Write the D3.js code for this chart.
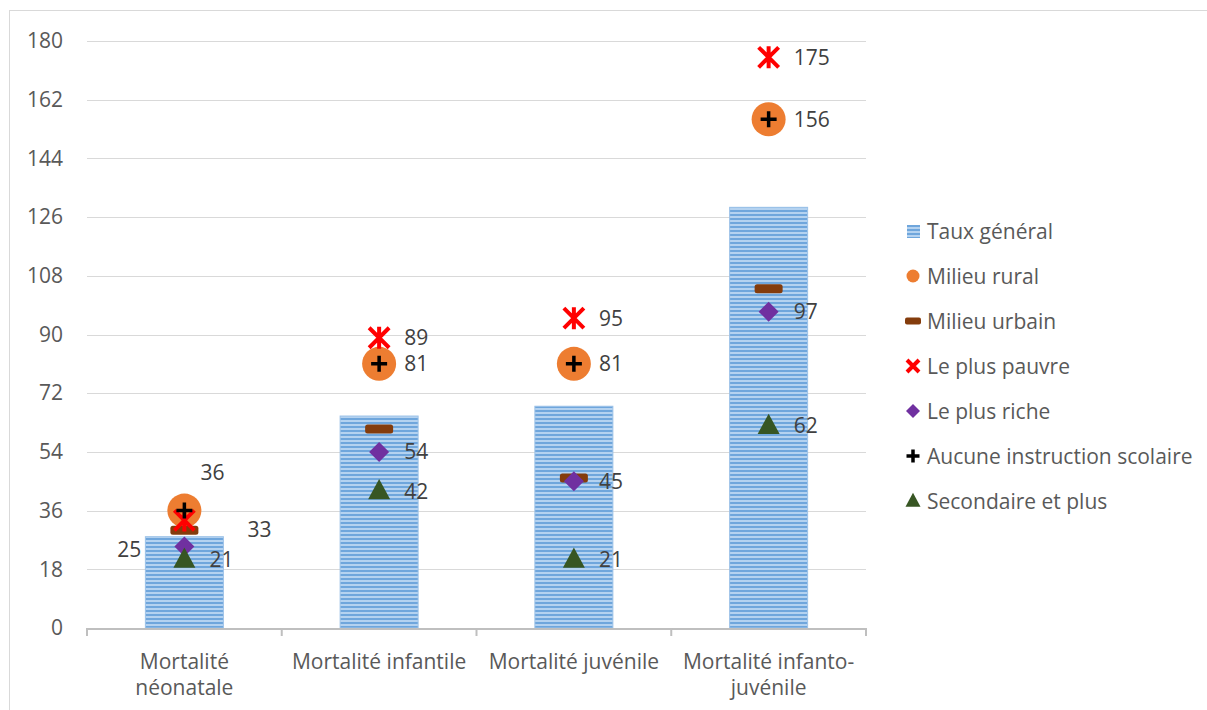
<!DOCTYPE html>
<html>
<head>
<meta charset="utf-8">
<script src="https://cdn.jsdelivr.net/npm/d3@7"></script>
<style>
  html, body { margin: 0; padding: 0; background: #fff; }
  svg text { font-family: "Open Sans", sans-serif; fill: #595959; }
</style>
</head>
<body>
<svg id="chart" width="1207" height="710"></svg>
<script>
// Mortality indicators by category
const categories = [
  ["Mortalité", "néonatale"],
  ["Mortalité infantile"],
  ["Mortalité juvénile"],
  ["Mortalité infanto-", "juvénile"]
];
const yTicks = [0, 18, 36, 54, 72, 90, 108, 126, 144, 162, 180];

const tauxGeneral = [28, 65, 68, 129];
const milieuRural = [36, 81, 81, 156];
const milieuUrbain = [30, 61, 46, 104];
const plusPauvre = [33, 89, 95, 175];
const plusRiche = [25, 54, 45, 97];
const aucuneInstruction = [36, 81, 81, 156];
const secondairePlus = [21, 42, 21, 62];

const legendLabels = [
  "Taux général", "Milieu rural", "Milieu urbain", "Le plus pauvre",
  "Le plus riche", "Aucune instruction scolaire", "Secondaire et plus"
];

const FS = "21px";
const svg = d3.select("#chart");
const margin = { left: 87, right: 866, top: 41, bottom: 628 };

// outer frame
svg.append("rect").attr("x", 9.5).attr("y", 10.5).attr("width", 1210).attr("height", 710)
  .attr("fill", "none").attr("stroke", "#D9D9D9").attr("stroke-width", 1);

// striped fill for the bars
const defs = svg.append("defs");
const pat = defs.append("pattern").attr("id", "stripes").attr("patternUnits", "userSpaceOnUse")
  .attr("width", 8).attr("height", 4);
pat.append("rect").attr("width", 8).attr("height", 4).attr("fill", "#6FA6DC");
pat.append("rect").attr("y", 0).attr("width", 8).attr("height", 2).attr("fill", "#B4D2F0");

const x = d3.scaleBand().domain(d3.range(categories.length))
  .range([margin.left, margin.right]).paddingInner(0).paddingOuter(0);
const y = d3.scaleLinear().domain([0, 180]).range([margin.bottom, margin.top]);
const cx = i => x(i) + x.bandwidth() / 2;

// gridlines
svg.append("g").selectAll("line").data(yTicks.filter(t => t > 0)).join("line")
  .attr("x1", margin.left).attr("x2", margin.right)
  .attr("y1", d => Math.round(y(d)) + 0.5).attr("y2", d => Math.round(y(d)) + 0.5)
  .attr("stroke", "#D9D9D9").attr("stroke-width", 1);

// y axis labels
const yAxis = d3.axisLeft(y).tickValues(yTicks).tickSize(0).tickPadding(0);
const gy = svg.append("g").attr("transform", `translate(63,0)`).call(yAxis);
gy.select(".domain").remove();
gy.selectAll("text").style("font-size", FS).attr("fill", "#595959")
  .style("font-family", "'Open Sans', sans-serif");

// bars
const barW = 78;
svg.append("g").selectAll("rect").data(tauxGeneral).join("rect")
  .attr("x", (d, i) => cx(i) - barW / 2).attr("width", barW)
  .attr("y", d => y(d)).attr("height", d => y(0) - y(d))
  .attr("fill", "url(#stripes)").attr("stroke", "#9CC2E8").attr("stroke-width", 1);

// x axis
const gx = svg.append("g");
gx.append("line").attr("x1", margin.left).attr("x2", margin.right)
  .attr("y1", margin.bottom + 1).attr("y2", margin.bottom + 1)
  .attr("stroke", "#BFBFBF").attr("stroke-width", 2);
const bounds = d3.range(categories.length + 1).map(i => margin.left + i * x.bandwidth());
gx.selectAll("line.tick").data(bounds).join("line").attr("class", "tick")
  .attr("x1", d => d).attr("x2", d => d)
  .attr("y1", margin.bottom).attr("y2", margin.bottom + 8)
  .attr("stroke", "#BFBFBF").attr("stroke-width", 2);
categories.forEach((lines, i) => {
  const t = gx.append("text").attr("text-anchor", "middle").style("font-size", FS);
  lines.forEach((ln, k) => t.append("tspan").attr("x", cx(i)).attr("y", 669 + k * 26).text(ln));
});

// marker shapes
const sym = {
  circle: g => g.append("circle").attr("r", 17).attr("fill", "#ED7D31"),
  dash: g => g.append("rect").attr("x", -14).attr("y", -4.5).attr("width", 28).attr("height", 9)
    .attr("rx", 2.5).attr("fill", "#843C0C"),
  star: g => {
    g.append("path").attr("d", "M-10,-10L10,10M10,-10L-10,10M0,-11L0,11")
      .attr("stroke", "#FF0000").attr("stroke-width", 4).attr("fill", "none");
  },
  starLegend: g => {
    g.append("path").attr("d", "M-6,-6L6,6M6,-6L-6,6")
      .attr("stroke", "#FF0000").attr("stroke-width", 4).attr("fill", "none");
  },
  diamond: (g, s = 10) => g.append("path").attr("d", `M0,${-s}L${s},0L0,${s}L${-s},0Z`).attr("fill", "#7030A0"),
  plus: (g, s = 8) => g.append("path").attr("d", `M${-s},0L${s},0M0,${-s}L0,${s}`)
    .attr("stroke", "#000").attr("stroke-width", 3.5).attr("fill", "none"),
  triangle: (g, s = 11) => g.append("path").attr("d", `M0,${-s * 1.1}L${s},${s * 0.75}L${-s},${s * 0.75}Z`)
    .attr("fill", "#375623")
};

const series = [
  { values: milieuRural, draw: sym.circle },
  { values: milieuUrbain, draw: sym.dash },
  { values: plusPauvre, draw: sym.star },
  { values: plusRiche, draw: sym.diamond },
  { values: aucuneInstruction, draw: sym.plus },
  { values: secondairePlus, draw: sym.triangle }
];
const markers = svg.append("g");
series.forEach(s => {
  s.values.forEach((v, i) => {
    const g = markers.append("g").attr("transform", `translate(${cx(i)},${y(v)})`);
    s.draw(g);
  });
});

// value labels (rural, poorest, richest, secondary)
const labelSeries = [milieuRural, plusPauvre, plusRiche, secondairePlus];
const labels = svg.append("g").style("font-size", FS);
labelSeries.forEach((vals, si) => {
  vals.forEach((v, i) => {
    let dx = 25, dy = 0, anchor = "start";
    if (i === 0) {
      if (si === 0) { dx = 16; dy = -38; }
      if (si === 1) { dx = 63; dy = 9; }
      if (si === 2) { dx = -43; dy = 3; anchor = "end"; }
    }
    labels.append("text").attr("x", cx(i) + dx).attr("y", y(v) + dy).attr("dy", "0.36em")
      .attr("text-anchor", anchor).attr("fill", "#404040").style("fill", "#404040").text(v);
  });
});

// legend
const legendDraw = [
  g => g.append("rect").attr("x", -6).attr("y", -6).attr("width", 13).attr("height", 13).attr("fill", "url(#stripes)"),
  g => g.append("circle").attr("r", 6.5).attr("fill", "#ED7D31"),
  g => g.append("rect").attr("x", -8).attr("y", -3.5).attr("width", 16).attr("height", 7).attr("rx", 2).attr("fill", "#843C0C"),
  sym.starLegend,
  g => sym.diamond(g, 7),
  g => sym.plus(g, 6.5),
  g => sym.triangle(g, 7.5)
];
const legend = svg.append("g");
legendLabels.forEach((lab, k) => {
  const yy = 231 + k * 45;
  const g = legend.append("g").attr("transform", `translate(913,${yy})`);
  legendDraw[k](g);
  legend.append("text").attr("x", 927).attr("y", yy).attr("dy", "0.36em")
    .style("font-size", FS).text(lab);
});
</script>
</body>
</html>
